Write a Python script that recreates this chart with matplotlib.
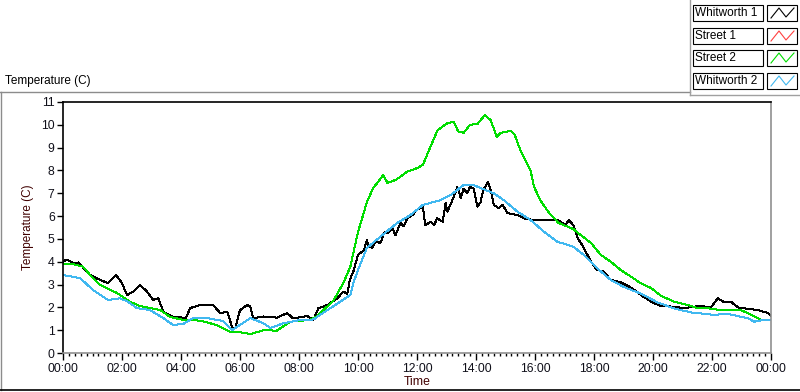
import matplotlib
matplotlib.use("Agg")
import matplotlib.pyplot as plt
from matplotlib.lines import Line2D
from matplotlib.patches import Rectangle
import numpy as np

plt.rcParams["font.family"] = ["Liberation Sans", "DejaVu Sans"]

# Whitworth 1 (black)
w1_t = [0, 0.12, 0.35, 0.53, 0.7, 0.92, 1.1, 1.26, 1.53, 1.8, 2.0, 2.17, 2.38, 2.61, 2.85,
        3.06, 3.23, 3.4, 3.73, 4.07, 4.14, 4.31, 4.65, 5.09, 5.33, 5.57, 5.74, 5.84, 6.0,
        6.24, 6.35, 6.45, 6.8, 7.26, 7.6, 7.8, 8.28, 8.49, 8.66, 8.96, 9.3, 9.5, 9.64, 9.72,
        9.85, 10.0, 10.2, 10.3, 10.36, 10.48, 10.6, 10.76, 10.9, 11.0, 11.16, 11.27, 11.44,
        11.55, 11.67, 11.85, 12.0, 12.2, 12.28, 12.46, 12.58, 12.68, 12.87, 12.97, 13.03,
        13.2, 13.37, 13.48, 13.58, 13.7, 13.8, 13.92, 14.05, 14.15, 14.25, 14.4, 14.5, 14.6,
        14.77, 14.9, 15.07, 15.4, 15.63, 15.96, 16.43, 16.77, 16.94, 17.04, 17.14, 17.3,
        17.45, 17.6, 17.9, 18.1, 18.33, 18.57, 18.9, 19.25, 19.59, 19.93, 20.26, 20.7,
        21.05, 21.4, 21.62, 21.96, 22.2, 22.4, 22.64, 22.88, 23.2, 23.56, 23.9, 24.0]
w1_v = [4.0, 4.1, 3.93, 3.97, 3.72, 3.42, 3.3, 3.2, 3.06, 3.42, 3.06, 2.54, 2.69, 2.98, 2.69,
        2.32, 2.4, 1.81, 1.59, 1.55, 1.45, 1.97, 2.1, 2.1, 1.75, 1.81, 1.1, 1.1, 1.88,
        2.1, 2.03, 1.52, 1.6, 1.55, 1.75, 1.52, 1.62, 1.45, 1.97, 2.1, 2.4, 2.69, 2.6, 3.2,
        3.6, 4.3, 4.5, 4.95, 4.7, 4.6, 4.9, 4.82, 5.3, 5.25, 5.48, 5.17, 5.7,
        5.55, 5.91, 6.05, 6.27, 6.41, 5.6, 5.75, 5.6, 5.9, 5.75, 6.57, 6.2,
        6.7, 7.28, 6.8, 7.2, 7.0, 7.29, 7.2, 6.41, 6.6, 7.14, 7.5, 7.14, 6.49,
        6.35, 6.49, 6.13, 6.05, 5.9, 5.83, 5.83, 5.83, 5.68, 5.6, 5.83, 5.6,
        5.02, 4.73, 4.0, 3.64, 3.57, 3.2, 3.1, 2.87, 2.54, 2.25, 2.06, 2.03,
        1.97, 2.03, 2.06, 2.0, 2.4, 2.23, 2.25, 2.0, 1.94, 1.88, 1.75, 1.62]

# Street 1 (red) - no data shown
s1_t = []
s1_v = []

# Street 2 (green)
s2_t = [0, 0.3, 0.5, 0.68, 0.92, 1.26, 1.83, 2.27, 2.6, 3.3, 3.63, 4.08, 4.65, 5.2, 5.67,
        5.9, 6.35, 6.8, 7.25, 7.7, 8.38, 8.6, 9.17, 9.5, 9.74, 10.0, 10.3, 10.5, 10.86, 11.0,
        11.3, 11.67, 12.0, 12.2, 12.46, 12.7, 13.03, 13.24, 13.4, 13.58, 13.8, 14.05, 14.3,
        14.5, 14.7, 14.83, 15.17, 15.3, 15.5, 15.85, 15.96, 16.2, 16.5, 16.8, 17.3, 17.55,
        17.9, 18.23, 18.57, 18.9, 19.25, 19.59, 19.93, 20.26, 20.7, 21.2, 21.5, 21.86, 22.3,
        22.98, 23.2, 23.66, 24.0]
s2_v = [3.9, 3.9, 3.85, 3.78, 3.42, 2.98, 2.63, 2.25, 2.06, 1.88, 1.58, 1.45, 1.42, 1.23, 0.93,
        0.93, 0.83, 1.0, 0.98, 1.37, 1.45, 1.6, 2.3, 3.06, 3.78, 5.3, 6.6, 7.2, 7.8, 7.45,
        7.6, 7.95, 8.1, 8.25, 9.05, 9.77, 10.07, 10.14, 9.7, 9.65, 10.0, 10.04, 10.43,
        10.2, 9.48, 9.64, 9.74, 9.6, 8.9, 8.0, 7.3, 6.65, 6.1, 5.7, 5.43, 5.17,
        4.82, 4.3, 4.0, 3.64, 3.35, 3.05, 2.85, 2.52, 2.25, 2.1, 1.97, 1.96, 1.88,
        1.88, 1.75, 1.45, 1.45]

# Whitworth 2 (blue)
w2_t = [0, 0.58, 1.02, 1.53, 1.93, 2.2, 2.5, 2.95, 3.4, 3.73, 4.07, 4.41, 4.89, 5.43, 5.73,
        6.0, 6.35, 6.8, 7.03, 7.47, 8.05, 8.49, 8.96, 9.4, 9.74, 9.84, 10.0, 10.3, 10.76,
        11.33, 11.78, 12.2, 12.8, 13.14, 13.58, 13.92, 14.15, 14.6, 14.94, 15.4, 15.85, 16.3,
        16.75, 17.3, 17.65, 18.1, 18.57, 19.0, 19.59, 20.15, 20.7, 21.28, 22.07, 22.5, 23.2,
        23.44, 23.76, 24.0]
w2_v = [3.42, 3.28, 2.76, 2.32, 2.4, 2.25, 1.97, 1.88, 1.53, 1.23, 1.27, 1.53, 1.53, 1.4, 1.0,
        1.23, 1.53, 1.3, 1.1, 1.3, 1.45, 1.47, 1.88, 2.25, 2.54, 3.06, 3.64, 4.6, 5.1,
        5.7, 6.05, 6.49, 6.7, 6.92, 7.36, 7.36, 7.23, 7.0, 6.7, 6.2, 5.83, 5.32,
        4.88, 4.66, 4.3, 3.72, 3.2, 2.9, 2.6, 2.22, 1.96, 1.78, 1.67, 1.72, 1.53,
        1.37, 1.45, 1.45]

names = ["Whitworth 1", "Street 1", "Street 2", "Whitworth 2"]
colors = ["#000000", "#ff4040", "#00dd00", "#40b8f0"]
series = [(w1_t, w1_v), (s1_t, s1_v), (s2_t, s2_v), (w2_t, w2_v)]

x_ticks = list(range(0, 25, 2))
x_labels = ["00:00", "02:00", "04:00", "06:00", "08:00", "10:00", "12:00",
            "14:00", "16:00", "18:00", "20:00", "22:00", "00:00"]
y_ticks = list(range(0, 12))

W, H = 800, 392
fig = plt.figure(figsize=(W / 100, H / 100), dpi=100)


def fx(px):
    return px / W


def fy(py):
    return 1 - py / H


ax = fig.add_axes([fx(63), fy(353), fx(771) - fx(63), fy(102) - fy(353)])
for (t, v), c in zip(series, colors):
    if t:
        ax.plot(t, v, color=c, lw=0.72, antialiased=False)

ax.set_xlim(0, 24)
ax.set_ylim(0, 11)
ax.set_xticks(x_ticks)
ax.set_xticklabels(x_labels)
ax.set_xticks(np.arange(0, 24.01, 0.2), minor=True)
ax.set_yticks(y_ticks)
ax.tick_params(axis="both", which="major", direction="out", labelsize=8.8, colors="black",
               labelcolor="#10101a")
ax.tick_params(axis="x", which="major", length=5, width=1, pad=2)
ax.tick_params(axis="x", which="minor", length=2.5, width=1)
ax.tick_params(axis="y", which="major", length=4, width=1, pad=2)
ax.spines["left"].set_color("black")
ax.spines["top"].set_color("black")
ax.spines["right"].set_color("#909090")
ax.spines["bottom"].set_color("#909090")
for s in ax.spines.values():
    s.set_linewidth(1.2)
ax.set_ylabel("Temperature (C)", fontsize=8.5, color="#400000", labelpad=5)
ax.set_xlabel("Time", fontsize=8.8, color="#400000", labelpad=1)

# outer panel frame
fig.add_artist(Line2D([fx(0), fx(690)], [fy(92), fy(92)], color="#8c8c8c", lw=1))
fig.add_artist(Line2D([fx(1), fx(1)], [fy(92), fy(390)], color="#8c8c8c", lw=1))
fig.add_artist(Line2D([fx(0), fx(800)], [fy(390), fy(390)], color="black", lw=1.2))
fig.add_artist(Line2D([fx(690), fx(690)], [fy(0), fy(95)], color="#a0a0a0", lw=1))
fig.add_artist(Line2D([fx(690), fx(800)], [fy(95), fy(95)], color="#a0a0a0", lw=1))
fig.text(fx(5), fy(81), "Temperature (C)", fontsize=8.5, va="center", ha="left")

# legend panel
rows_y = [5, 28, 50, 73]
for name, c, ry in zip(names, colors, rows_y):
    fig.add_artist(Rectangle((fx(693), fy(ry + 16)), fx(763) - fx(693), fy(ry) - fy(ry + 16),
                             facecolor="white", edgecolor="black", lw=0.8))
    fig.text(fx(695), fy(ry + 8), name, fontsize=8.5, va="center", ha="left")
    fig.add_artist(Rectangle((fx(767), fy(ry + 16)), fx(797) - fx(767), fy(ry) - fy(ry + 16),
                             facecolor="white", edgecolor="black", lw=0.8))
    zx = [771, 779, 786, 794]
    zy = [ry + 13, ry + 3, ry + 12, ry + 3]
    fig.add_artist(Line2D([fx(p) for p in zx], [fy(p) for p in zy], color=c, lw=0.8))

fig.savefig("out.png", dpi=100)
